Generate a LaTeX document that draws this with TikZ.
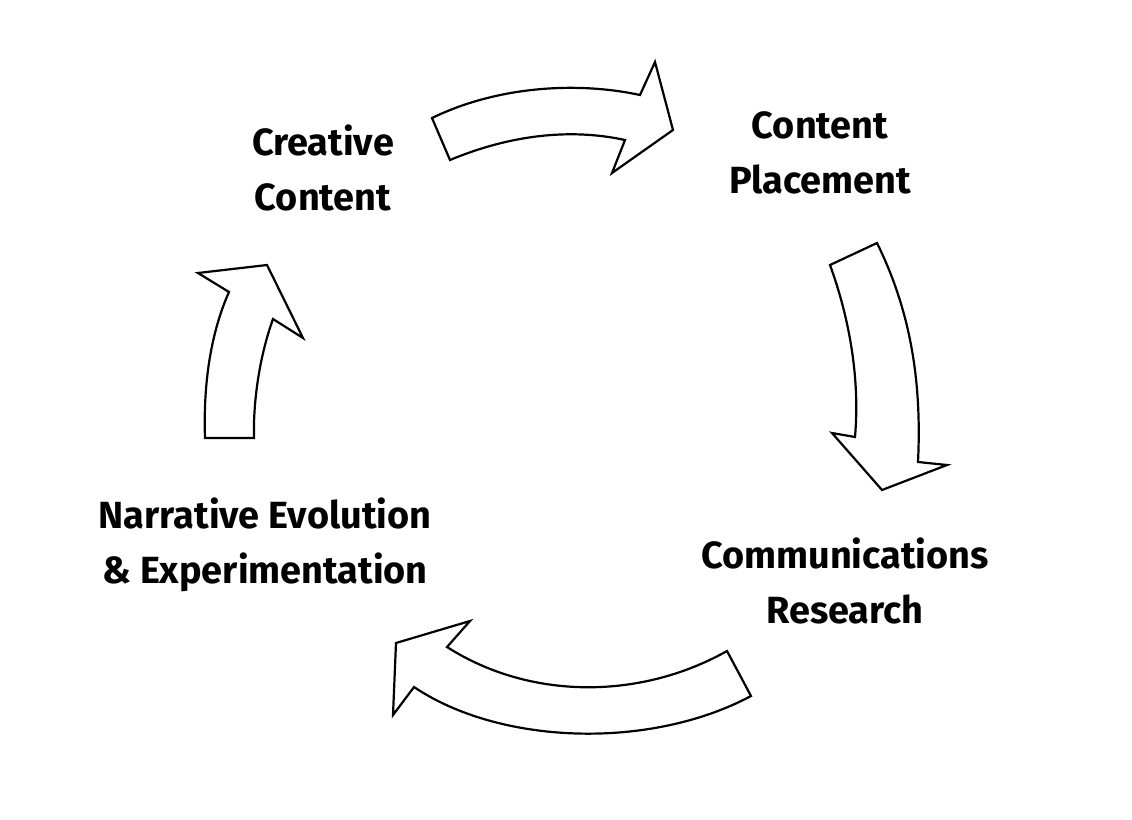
\documentclass[tikz,border=0pt]{standalone}
\usepackage{fontspec}
\setmainfont{Fira Sans}[BoldFont={Fira Sans Bold}]
\begin{document}
\begin{tikzpicture}[x=1bp,y=-1bp,
  blk/.style={draw=black,line width=2.2bp,fill=white,line join=miter},
  lab/.style={font=\fontsize{38}{55}\selectfont\bfseries,align=center,inner sep=0pt}]
\useasboundingbox (0,0) rectangle (1132,820);
% top arrow
\draw[blk] (432,118) .. controls (500,85) and (580,82) .. (640,95) -- (655,62) -- (673,130) -- (612,173) -- (625,140) .. controls (570,128) and (510,135) .. (450,160) -- cycle;
% right arrow
\draw[blk] (830,265) .. controls (850,320) and (860,380) .. (855,437) -- (832,433) -- (882,490) -- (947,465) -- (918,462) .. controls (922,380) and (910,310) .. (877,243) -- cycle;
% bottom arrow
\draw[blk] (727,651) .. controls (640,700) and (530,700) .. (447,647) -- (470,621) -- (396,643) -- (393,715) -- (414,687) .. controls (500,745) and (650,750) .. (751,696) -- cycle;
% left arrow
\draw[blk] (205,438) .. controls (203,380) and (212,330) .. (229,292) -- (198,273) -- (267,265) -- (303,338) -- (273,319) .. controls (260,355) and (253,400) .. (254,438) -- cycle;
\node[lab] (cc) at (323,168) {Creative\\Content};
\node[lab] (cp) at (820,153) {Content\\Placement};
\node[lab] (ne) at (265,545) {Narrative Evolution\\\& Experimentation};
\node[lab] (cr) at (845,581) {Communications\\Research};
\end{tikzpicture}
\end{document}
